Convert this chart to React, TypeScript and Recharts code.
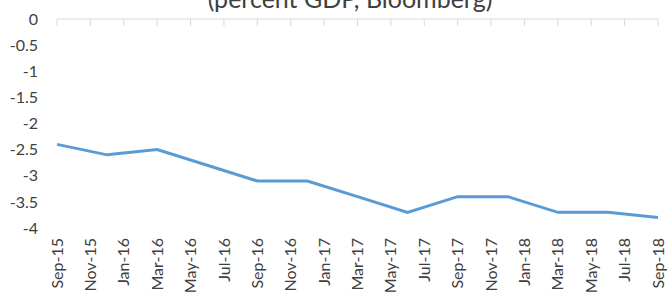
import * as React from "react"
import { LineChart, Line, XAxis, YAxis, ReferenceLine } from "recharts"

// month index from Sep-15 (0) to Sep-18 (36)
const quarterMonths = [0, 3, 6, 9, 12, 15, 18, 21, 24, 27, 30, 33, 36]
const balance = [-2.4, -2.6, -2.5, -2.8, -3.1, -3.1, -3.4, -3.7, -3.4, -3.4, -3.7, -3.7, -3.8]

const tickLabels = [
  "Sep-15", "Nov-15", "Jan-16", "Mar-16", "May-16", "Jul-16", "Sep-16", "Nov-16", "Jan-17", "Mar-17",
  "May-17", "Jul-17", "Sep-17", "Nov-17", "Jan-18", "Mar-18", "May-18", "Jul-18", "Sep-18",
]
const tickMonths = tickLabels.map((_, i) => i * 2)
const yTicks = [0, -0.5, -1, -1.5, -2, -2.5, -3, -3.5, -4]

const data = quarterMonths.map((m, i) => ({ m, value: balance[i] }))

const FONT = "Lato, 'Open Sans', sans-serif"
const PLOT_TOP = 19
const GRID = "#d9d9d9"

// label at the bottom, small tick mark hanging from the zero line at the top
const RotatedTick = ({ x, y, payload }: any) => {
  const label = tickLabels[Math.round(payload.value / 2)]
  return (
    <g>
      <line x1={x} x2={x} y1={PLOT_TOP} y2={PLOT_TOP + 7} stroke={GRID} strokeWidth={1} />
      <g transform={`translate(${x},${y})`}>
        <text transform="rotate(-90)" textAnchor="end" dy="0.35em" fill="#404040" fontSize={16} fontFamily={FONT}>
          {label}
        </text>
      </g>
    </g>
  )
}

export default function App() {
  return (
    <div style={{ position: "absolute", left: 0, top: 0, width: 667, height: 298, background: "#fff", overflow: "hidden" }}>
      <div
        style={{
          position: "absolute",
          left: 0,
          width: 700,
          top: -14,
          textAlign: "center",
          fontFamily: FONT,
          fontSize: 25,
          lineHeight: "25px",
          color: "#404040",
        }}
      >
        (percent GDP, Bloomberg)
      </div>
      <LineChart width={667} height={298} data={data} margin={{ top: PLOT_TOP, right: 9, bottom: 0, left: 0 }}>
        <XAxis
          dataKey="m"
          type="number"
          domain={[0, 36]}
          ticks={tickMonths}
          interval={0}
          axisLine={false}
          tickLine={false}
          tickSize={6}
          tickMargin={4}
          height={70}
          tick={<RotatedTick />}
        />
        <YAxis
          domain={[-4, 0]}
          ticks={yTicks}
          interval={0}
          width={57}
          axisLine={false}
          tickLine={false}
          tickSize={6}
          tickMargin={13}
          tick={{ fill: "#404040", fontSize: 16, fontFamily: FONT }}
        />
        <ReferenceLine y={0} stroke={GRID} strokeWidth={1} />
        <Line
          dataKey="value"
          type="linear"
          stroke="#5b9bd5"
          strokeWidth={3}
          dot={false}
          isAnimationActive={false}
        />
      </LineChart>
    </div>
  )
}
